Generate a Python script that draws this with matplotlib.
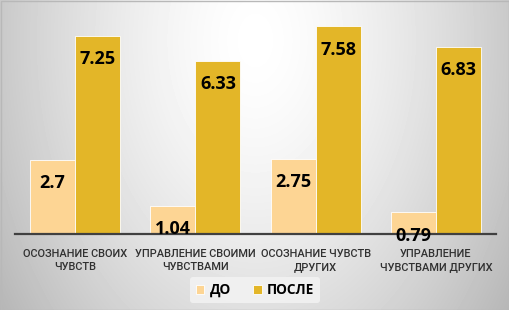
import numpy as np
import matplotlib.pyplot as plt

categories = ["ОСОЗНАНИЕ СВОИХ\nЧУВСТВ", "УПРАВЛЕНИЕ СВОИМИ\nЧУВСТВАМИ",
              "ОСОЗНАНИЕ ЧУВСТВ\nДРУГИХ", "УПРАВЛЕНИЕ\nЧУВСТВАМИ ДРУГИХ"]
before = [2.7, 1.04, 2.75, 0.79]
after = [7.25, 6.33, 7.58, 6.83]
labels = ["ДО", "ПОСЛЕ"]

c_before = "#FDD594"
c_after = "#E3B628"

plt.rcParams['font.family'] = ['Open Sans', 'DejaVu Sans']

fig = plt.figure(figsize=(5.1, 3.1), dpi=100)

# radial gradient background
bg = fig.add_axes([0, 0, 1, 1], zorder=0)
yy, xx = np.mgrid[0:310, 0:510]
r = np.sqrt(((xx - 255) / 300.0) ** 2 + ((yy - 40) / 450.0) ** 2)
shade = 1.0 - 0.27 * np.clip(r, 0, 1.2) ** 1.5
bg.imshow(shade, cmap="gray", vmin=0, vmax=1, extent=[0, 510, 310, 0], aspect="auto")
bg.axis("off")
bg.add_patch(plt.Rectangle((0.5, 0.5), 509, 309, fill=False, edgecolor="#B8B8B8", lw=1))

ax = fig.add_axes([15 / 510, (310 - 234) / 310, 481 / 510, 219 / 310], zorder=1)
ax.patch.set_alpha(0)
x = np.arange(len(categories))
w = 0.375
b1 = ax.bar(x - w / 2, before, w, color=c_before, edgecolor="white", linewidth=0.6, label=labels[0])
b2 = ax.bar(x + w / 2, after, w, color=c_after, edgecolor="white", linewidth=0.6, label=labels[1])

for bars, vals in ((b1, before), (b2, after)):
    for rect, v in zip(bars, vals):
        ax.text(rect.get_x() + rect.get_width() / 2, v - 0.85, f"{v:g}",
                ha="center", va="center", fontsize=13, fontweight="bold", color="black",
                zorder=5)

ax.set_xlim(-0.5, 3.5)
ax.set_ylim(0, 8)
for s in ["top", "right", "left"]:
    ax.spines[s].set_visible(False)
ax.spines["bottom"].set_color("#404040")
ax.spines["bottom"].set_linewidth(1.6)
ax.spines["bottom"].set_zorder(4)
ax.set_yticks([])
ax.set_xticks(x)
ax.set_xticklabels(categories, fontsize=7.9, color="#303030", fontweight="medium",
                   linespacing=1.3, family=["Roboto", "DejaVu Sans"])
ax.tick_params(axis="x", length=0, pad=11)

leg = fig.legend(loc="center", bbox_to_anchor=(255 / 510, 1 - 290 / 310), ncol=2,
                 frameon=True, fontsize=9.8, handlelength=0.65, handleheight=0.65,
                 columnspacing=1.6, handletextpad=0.4, borderpad=0.4)
leg.get_frame().set_facecolor("#F4F4F4")
leg.get_frame().set_edgecolor("none")
leg.get_frame().set_alpha(0.8)
for t in leg.get_texts():
    t.set_fontweight("bold")
    t.set_color("black")

fig.savefig("out.png", dpi=100)
